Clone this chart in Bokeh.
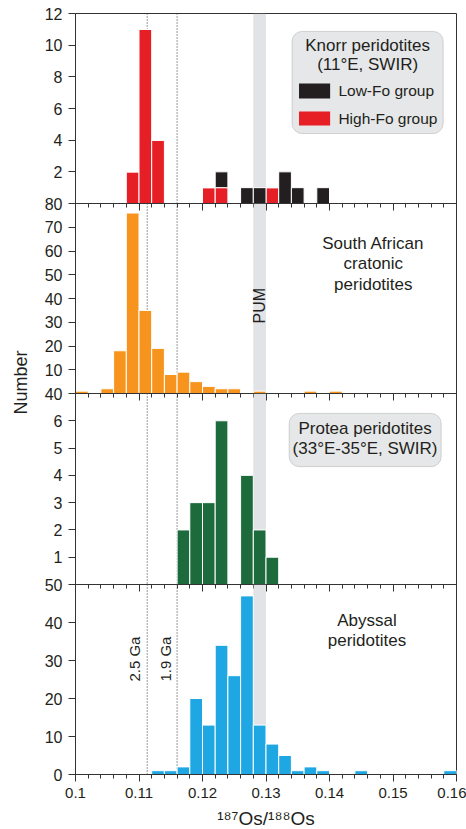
import math

from bokeh.embed import file_html
from bokeh.layouts import column, row
from bokeh.models import BoxAnnotation, ColumnDataSource, FixedTicker, Label, Range1d, Span
from bokeh.plotting import figure
from bokeh.resources import INLINE

# ---- data: 187Os/188Os histograms, bin width 0.002 (bin centres listed) ----
BIN = 0.002

knorr_bins = [0.109, 0.111, 0.113, 0.121, 0.123, 0.127, 0.129, 0.131, 0.133, 0.135, 0.139]
knorr_high_fo = [2, 11, 4, 1, 1, 0, 0, 1, 0, 0, 0]
knorr_low_fo = [0, 0, 0, 0, 1, 1, 1, 0, 2, 1, 1]

safrica_bins = [0.101, 0.105, 0.107, 0.109, 0.111, 0.113, 0.115, 0.117, 0.119,
                0.121, 0.123, 0.125, 0.129, 0.137, 0.141]
safrica_counts = [1, 2, 18, 76, 35, 19, 8, 9, 5, 3, 2, 2, 1, 1, 1]

protea_bins = [0.117, 0.119, 0.121, 0.123, 0.127, 0.129, 0.131]
protea_counts = [2, 3, 3, 6, 4, 2, 1]

abyssal_bins = [0.113, 0.115, 0.117, 0.119, 0.121, 0.123, 0.125, 0.127, 0.129,
                0.131, 0.133, 0.135, 0.137, 0.139, 0.145, 0.159]
abyssal_counts = [1, 1, 2, 20, 13, 34, 26, 47, 13, 8, 5, 1, 2, 1, 1, 1]

x_ticks = [0.10, 0.11, 0.12, 0.13, 0.14, 0.15, 0.16]
x_tick_labels = ["0.1", "0.11", "0.12", "0.13", "0.14", "0.15", "0.16"]
x_minor_ticks = [round(0.1 + BIN * i, 3) for i in range(31)]
x_title = "¹⁸⁷Os/¹⁸⁸Os"
y_title = "Number"

knorr_yticks = [0, 2, 4, 6, 8, 10, 12]
knorr_ylabels = ["80", "2", "4", "6", "8", "10", "12"]
safrica_yticks = [0, 10, 20, 30, 40, 50, 60, 70]
safrica_ylabels = ["40", "10", "20", "30", "40", "50", "60", "70"]
protea_yticks = [0, 1, 2, 3, 4, 5, 6]
protea_ylabels = ["50", "1", "2", "3", "4", "5", "6"]
abyssal_yticks = [0, 10, 20, 30, 40]
abyssal_ylabels = ["0", "10", "20", "30", "40"]

pum_range = (0.128, 0.130)
age_positions = [0.1113, 0.116]
age_names = ["2.5 Ga", "1.9 Ga"]

# ---- styling ----
FONT = "Liberation Sans"
INK = "#231f20"
AXIS = "#333333"
RED = "#e61e26"
BLACK = "#231f20"
ORANGE = "#f7941d"
GREEN = "#1d6b3c"
BLUE = "#1fa7e3"
BOX_FILL = "#e6e7e8"
BOX_LINE = "#808080"

LABEL_W = 36           # strip on the left that holds the shared y title
PANEL_W = 466 - LABEL_W


def panel(height, ymax, yticks, ylabels, top, bottom, overlap, x_labels=False):
    p = figure(width=PANEL_W, height=height, x_range=Range1d(0.1, 0.16), y_range=Range1d(0, ymax),
               output_backend="svg", toolbar_location=None, tools="",
               min_border_left=75 - LABEL_W, min_border_right=10,
               min_border_top=top, min_border_bottom=bottom,
               background_fill_color=None, border_fill_color=None,
               outline_line_color=AXIS, outline_line_width=1)
    if overlap:
        p.margin = (-overlap, 0, 0, 0)
    p.grid.visible = False

    # PUM band and model-age reference lines sit behind the bars
    p.add_layout(BoxAnnotation(left=pum_range[0], right=pum_range[1], fill_color="#cfd1d7",
                               fill_alpha=0.6, line_color=None, level="underlay"))
    for xpos in age_positions:
        p.add_layout(Span(location=xpos, dimension="height", line_color="#555555",
                          line_dash="1 2", line_width=1.2, level="underlay"))

    yax = p.yaxis[0]
    yax.ticker = FixedTicker(ticks=yticks)
    yax.major_label_overrides = {t: s for t, s in zip(yticks, ylabels)}
    yax.major_tick_out = 7
    yax.major_tick_in = 0
    yax.minor_tick_line_color = None
    yax.major_label_standoff = 6
    yax.major_label_text_font = FONT
    yax.major_label_text_font_size = "16px"
    yax.major_label_text_color = INK
    yax.axis_line_color = AXIS
    yax.major_tick_line_color = AXIS

    xax = p.xaxis[0]
    xax.ticker = FixedTicker(ticks=x_ticks, minor_ticks=x_minor_ticks)
    xax.major_tick_out = 7
    xax.major_tick_in = 0
    xax.minor_tick_out = 4
    xax.minor_tick_in = 0
    xax.axis_line_color = AXIS
    xax.major_tick_line_color = AXIS
    xax.minor_tick_line_color = AXIS
    if x_labels:
        xax.major_label_overrides = {t: s for t, s in zip(x_ticks, x_tick_labels)}
        xax.major_label_standoff = 6
        xax.major_label_text_font = FONT
        xax.major_label_text_font_size = "15px"
        xax.major_label_text_color = INK
        xax.axis_label = x_title
        xax.axis_label_standoff = 7
        xax.axis_label_text_font = FONT
        xax.axis_label_text_font_size = "19px"
        xax.axis_label_text_font_style = "normal"
        xax.axis_label_text_color = INK
    else:
        xax.major_label_standoff = 0
        xax.major_label_text_font_size = "1px"
        xax.major_label_text_color = None
    return p


def text(p, x, y, s, size="17px", align="center", baseline="middle", angle=0.0, **kw):
    p.add_layout(Label(x=x, y=y, text=s, text_font=FONT, text_font_size=size,
                       text_color=INK, text_align=align, text_baseline=baseline,
                       angle=angle, **kw))


# ---- Knorr peridotites ----
p1 = panel(227, 12, knorr_yticks, knorr_ylabels, top=13, bottom=24, overlap=0)
knorr_src = ColumnDataSource(dict(x=knorr_bins, high=knorr_high_fo, low=knorr_low_fo))
p1.vbar_stack(["high", "low"], x="x", width=BIN, source=knorr_src,
              fill_color=[RED, BLACK], line_color="white", line_width=1)
p1.add_layout(BoxAnnotation(left=0.1341, right=0.1579, top=10.87, bottom=4.42,
                            fill_color=BOX_FILL, fill_alpha=1, line_color=BOX_LINE,
                            line_width=1, border_radius=10))
text(p1, 0.1460, 9.98, "Knorr peridotites")
text(p1, 0.1460, 8.78, "(11°E, SWIR)")
p1.add_layout(BoxAnnotation(left=0.1352, right=0.1401, top=7.58, bottom=6.63,
                            fill_color=BLACK, fill_alpha=1, line_color=None))
p1.add_layout(BoxAnnotation(left=0.1352, right=0.1401, top=5.81, bottom=4.93,
                            fill_color=RED, fill_alpha=1, line_color=None))
text(p1, 0.1414, 7.12, "Low-Fo group", size="15.5px", align="left")
text(p1, 0.1414, 5.35, "High-Fo group", size="15.5px", align="left")

# ---- South African cratonic peridotites ----
p2 = panel(214, 80, safrica_yticks, safrica_ylabels, top=0, bottom=24, overlap=24)
p2.vbar(x=safrica_bins, top=safrica_counts, width=BIN, fill_color=ORANGE,
        line_color="white", line_width=1)
text(p2, 0.1469, 63.2, "South African")
text(p2, 0.1469, 54.7, "cratonic")
text(p2, 0.1469, 45.9, "peridotites")
text(p2, 0.1290, 37.0, "PUM", size="16px", angle=math.pi / 2)

# ---- Protea peridotites ----
p3 = panel(215, 7, protea_yticks, protea_ylabels, top=0, bottom=24, overlap=24)
p3.vbar(x=protea_bins, top=protea_counts, width=BIN, fill_color=GREEN,
        line_color="white", line_width=1)
p3.add_layout(BoxAnnotation(left=0.13365, right=0.15759, top=6.27, bottom=4.32,
                            fill_color=BOX_FILL, fill_alpha=1, line_color=BOX_LINE,
                            line_width=1, border_radius=10))
text(p3, 0.1456, 5.72, "Protea peridotites")
text(p3, 0.1456, 4.98, "(33°E-35°E, SWIR)")

# ---- Abyssal peridotites ----
p4 = panel(250, 50, abyssal_yticks, abyssal_ylabels, top=0, bottom=60, overlap=24, x_labels=True)
p4.vbar(x=abyssal_bins, top=abyssal_counts, width=BIN, fill_color=BLUE,
        line_color="white", line_width=1)
text(p4, 0.1459, 40.5, "Abyssal")
text(p4, 0.1459, 35.3, "peridotites")
text(p4, 0.1093, 36.3, age_names[0], size="15px", align="right", angle=math.pi / 2)
text(p4, 0.1142, 36.3, age_names[1], size="15px", align="right", angle=math.pi / 2)

# ---- shared y title in a narrow strip to the left of the stack ----
strip = figure(width=LABEL_W, height=829, x_range=Range1d(0, LABEL_W), y_range=Range1d(0, 829),
               output_backend="svg", toolbar_location=None, tools="",
               min_border=0, x_axis_location=None, y_axis_location=None,
               background_fill_color=None, border_fill_color=None, outline_line_color=None)
strip.grid.visible = False
text(strip, 20, 447, y_title, size="18px", angle=math.pi / 2)

layout = row(strip, column(p1, p2, p3, p4, spacing=0), spacing=0)

with open("out.html", "w") as f:
    f.write(file_html(layout, INLINE))
